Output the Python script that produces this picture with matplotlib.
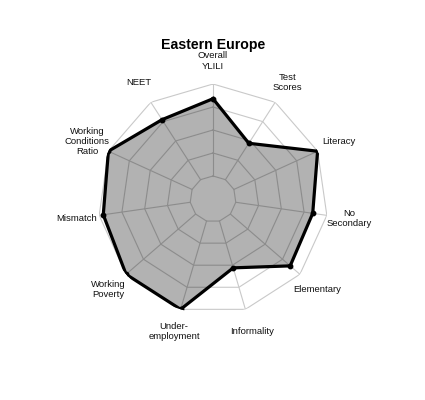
import numpy as np
import matplotlib
matplotlib.use("Agg")
import matplotlib.pyplot as plt

plt.rcParams['font.family'] = ['Liberation Sans', 'DejaVu Sans']

title = "Eastern Europe"
# clockwise from the top
categories = ["Overall\nYLILI", "Test\nScores", "Literacy", "No\nSecondary",
              "Elementary", "Informality", "Under-\nemployment", "Working\nPoverty",
              "Mismatch", "Working\nConditions\nRatio", "NEET"]
# scaled values (0 = inner ring, 1 = outer ring)
values = [0.84, 0.47, 1.0, 0.845, 0.86, 0.53, 1.0, 1.0, 0.955, 1.0, 0.775]
grid_levels = [0.0, 0.25, 0.5, 0.75, 1.0]

fig = plt.figure(figsize=(4.25, 4.0), dpi=100)
ax = fig.add_axes([98/425, 86/400, 230/425, 230/400], projection='polar')
ax.set_theta_zero_location('N')
ax.set_theta_direction(-1)
ax.set_rlim(-0.25, 1.0)
ax.grid(False)
ax.set_xticks([])
ax.set_yticks([])
ax.spines['polar'].set_visible(False)
ax.patch.set_visible(False)

n = len(categories)
theta = np.linspace(0, 2*np.pi, n, endpoint=False)
theta_c = np.append(theta, theta[0])

grid_col = '#c9c9c9'
for lv in grid_levels:
    ax.plot(theta_c, [lv]*(n+1), color=grid_col, lw=0.8, zorder=1)
for t in theta:
    ax.plot([t, t], [grid_levels[0], grid_levels[-1]], color=grid_col, lw=0.8, zorder=1)

vals_c = np.append(values, values[0])
ax.fill(theta_c, vals_c, color='black', alpha=0.3, lw=0, zorder=2)
ax.plot(theta_c, vals_c, color='black', lw=2.3, zorder=3)
ax.plot(theta, values, 'o', color='black', ms=3.2, zorder=4)

for t, lab in zip(theta, categories):
    ax.text(t, 1.25, lab, ha='center', va='center', fontsize=6.8,
            color='#111111', linespacing=1.15)

fig.text(213/425, 1-49/400, title, ha='center', va='baseline',
         fontsize=10.2, fontweight='bold')

fig.savefig('out.png', dpi=100)
